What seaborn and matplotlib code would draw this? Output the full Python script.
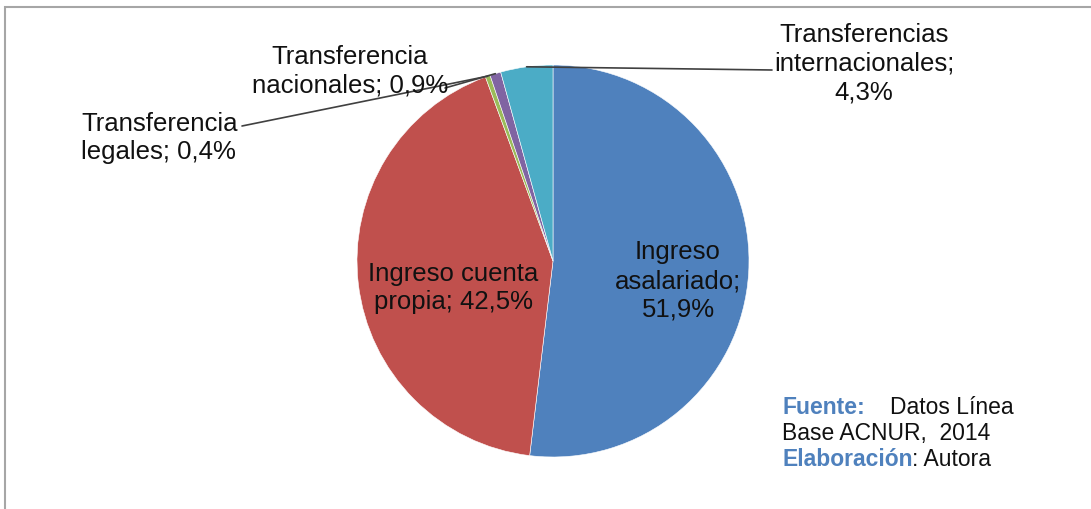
import numpy as np
import seaborn as sns
import matplotlib.pyplot as plt
from matplotlib.patches import Rectangle

sns.set_theme(style="white")
plt.rcParams['font.family'] = ['Liberation Sans', 'DejaVu Sans']

# data
categorias = ['Ingreso asalariado', 'Ingreso cuenta propia', 'Transferencia legales',
              'Transferencia nacionales', 'Transferencias internacionales']
porcentajes = [51.9, 42.5, 0.4, 0.9, 4.3]
colores = ['#4F81BD', '#C0504D', '#9BBB59', '#8064A2', '#4BACC6']
etiquetas = ['Ingreso\nasalariado;\n51,9%', 'Ingreso cuenta\npropia; 42,5%',
             'Transferencia\nlegales; 0,4%', 'Transferencia\nnacionales; 0,9%',
             'Transferencias\ninternacionales;\n4,3%']

W, H = 1091, 510
fig = plt.figure(figsize=(W / 100, H / 100), dpi=100)
ax = fig.add_axes([0, 0, 1, 1])

cx, cy, r = 553, 248, 196
wedges, _ = ax.pie(porcentajes, colors=colores, startangle=90, counterclock=False,
                   center=(cx, cy), radius=r, frame=True,
                   wedgeprops=dict(edgecolor='white', linewidth=0.4))
ax.set_xlim(0, W)
ax.set_ylim(0, H)
ax.set_aspect('equal')
ax.axis('off')

# punto medio de cada porcion sobre el borde
def borde(w, f=1.0):
    ang = np.deg2rad((w.theta1 + w.theta2) / 2)
    return cx + f * r * np.cos(ang), cy + f * r * np.sin(ang)

fs = 18.5
ls = 1.25
tc = '#111111'
# etiquetas internas
ax.text(678, H - 281, etiquetas[0], ha='center', va='center', fontsize=fs,
        color=tc, linespacing=ls)
ax.text(453, H - 288, etiquetas[1], ha='center', va='center', fontsize=fs,
        color=tc, linespacing=ls)

# etiquetas externas con lineas guia
lc = '#404040'
x, y = borde(wedges[4])
ax.plot([x, 772], [y, H - 71], color=lc, lw=1.2)
ax.text(864, H - 64, etiquetas[4], ha='center', va='center', fontsize=fs,
        color=tc, linespacing=ls)

x, y = borde(wedges[3])
ax.plot([x, 445], [y, H - 89], color=lc, lw=1.2)
ax.text(350, H - 71, etiquetas[3], ha='center', va='center', fontsize=fs,
        color=tc, linespacing=ls)

x, y = borde(wedges[2])
ax.plot([x, 242], [y, H - 127], color=lc, lw=1.2)
ax.text(81, H - 138, etiquetas[2], ha='left', va='center', fontsize=fs,
        color=tc, linespacing=ls)

# fuente
azul = '#4F81BD'
fs2 = 16.5
t1 = ax.text(782, H - 408, 'Fuente:', color=azul, fontsize=fs2, fontweight='bold',
             va='center', ha='left')
ax.text(890, H - 408, 'Datos Línea', color=tc, fontsize=fs2, va='center', ha='left')
ax.text(782, H - 434, 'Base ACNUR,  2014', color=tc, fontsize=fs2, va='center', ha='left')
t3 = ax.text(782, H - 460, 'Elaboración', color=azul, fontsize=fs2, fontweight='bold',
             va='center', ha='left')
ax.annotate(': Autora', xy=(1, 0), xycoords=t3, va='bottom', ha='left',
            color=tc, fontsize=fs2)

# marco
fig.patches.append(Rectangle((5 / W, -0.1), 1.2, (H - 8) / H + 0.1, transform=fig.transFigure,
                             fill=False, edgecolor='#a6a6a6', linewidth=1.5))

fig.savefig('out.png', dpi=100, facecolor='white')
